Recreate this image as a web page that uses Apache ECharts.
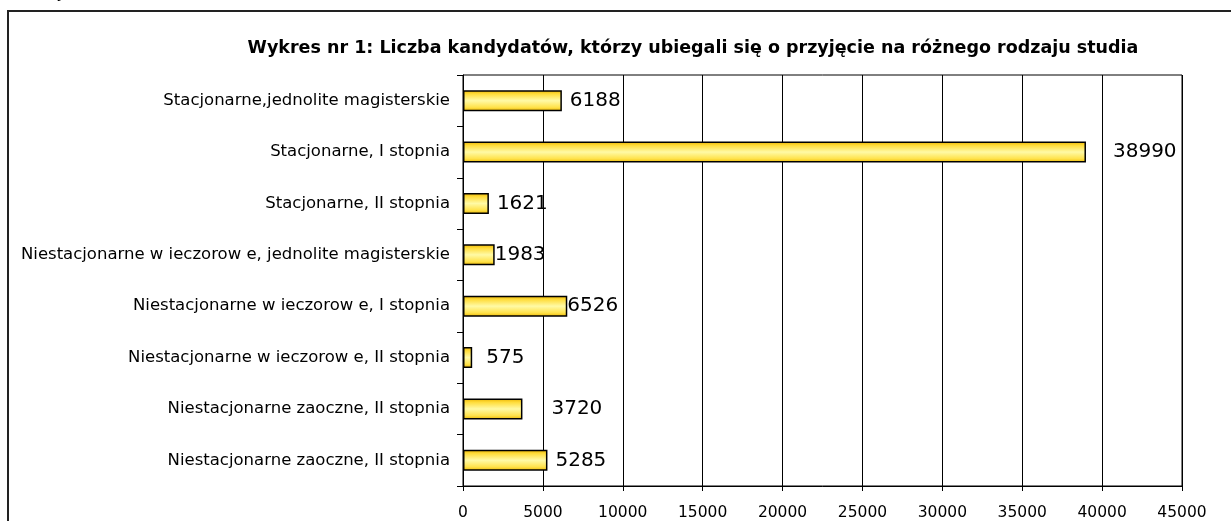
<!DOCTYPE html>
<html>
<head>
    <meta charset="utf-8">
    <title>Wykres nr 1</title>
    <script src="https://cdn.jsdelivr.net/npm/echarts@6/dist/echarts.min.js"></script>
    <style>
        html, body { margin: 0; padding: 0; background: #fff; }
    </style>
</head>
<body>
<div id="main" style="width: 1231px;height:521px;"></div>
<script type="text/javascript">
    // kategorie (od góry)
    var categories = [
        'Stacjonarne,jednolite magisterskie',
        'Stacjonarne, I stopnia',
        'Stacjonarne, II stopnia',
        'Niestacjonarne w ieczorow e, jednolite magisterskie',
        'Niestacjonarne w ieczorow e, I stopnia',
        'Niestacjonarne w ieczorow e, II stopnia',
        'Niestacjonarne zaoczne, II stopnia',
        'Niestacjonarne zaoczne, II stopnia'
    ];
    // liczba kandydatów
    var values = [6188, 38990, 1621, 1983, 6526, 575, 3720, 5285];
    // podziałka osi X
    var xTicks = [0, 5000, 10000, 15000, 20000, 25000, 30000, 35000, 40000, 45000];
    // odstęp etykiety od słupka (jak w oryginale)
    var labelGap = [8, 27, 8, 0, 0, 14, 29, 8];

    var font = "'DejaVu Sans', 'Liberation Sans', Arial, sans-serif";

    var barData = values.map(function (v, i) {
        return {
            value: v,
            label: { distance: labelGap[i] }
        };
    });

    var myChart = echarts.init(document.getElementById('main'));

    var option = {
        animation: false,
        backgroundColor: '#fff',
        title: {
            text: 'Wykres nr 1: Liczba kandydatów, którzy ubiegali się o przyjęcie na różnego rodzaju studia',
            left: 688,
            textAlign: 'center',
            top: 34,
            textStyle: {
                fontFamily: font,
                fontSize: 17.5,
                fontWeight: 'bold',
                color: '#000'
            }
        },
        graphic: [
            { // ramka wykresu
                type: 'polyline',
                shape: { points: [[8, 521], [8, 11], [1231, 11]] },
                style: { stroke: '#222', lineWidth: 2, fill: null }
            },
            { // ucięty tekst nad ramką
                type: 'text',
                left: 58,
                top: -14,
                style: { text: 'y', font: 'italic 16px ' + font, fill: '#000' }
            }
        ],
        grid: {
            left: 463,
            right: 49,
            top: 75,
            bottom: 35,
            show: true,
            borderColor: '#000',
            borderWidth: 1
        },
        xAxis: {
            type: 'value',
            min: xTicks[0],
            max: xTicks[xTicks.length - 1],
            interval: xTicks[1] - xTicks[0],
            axisLine: { show: true, lineStyle: { color: '#000', width: 1 } },
            axisTick: { show: true, length: 5, lineStyle: { color: '#000' } },
            splitLine: { show: true, lineStyle: { color: '#000', width: 1 } },
            axisLabel: {
                fontFamily: font,
                fontSize: 15.5,
                color: '#000',
                margin: 19,
                formatter: function (v) { return String(v); }
            }
        },
        yAxis: {
            type: 'category',
            inverse: true,
            data: categories,
            axisLine: { show: true, lineStyle: { color: '#000', width: 1 } },
            axisTick: { show: true, length: 6, lineStyle: { color: '#000' } },
            axisLabel: {
                fontFamily: font,
                fontSize: 16.5,
                color: '#000',
                margin: 13
            }
        },
        series: [{
            name: 'Liczba kandydatów',
            type: 'bar',
            barWidth: 21,
            data: barData,
            itemStyle: {
                borderColor: '#000',
                borderWidth: 1.5,
                color: new echarts.graphic.LinearGradient(0, 0, 0, 1, [
                    { offset: 0, color: '#e9b200' },
                    { offset: 0.18, color: '#ffdc3a' },
                    { offset: 0.5, color: '#fffaa6' },
                    { offset: 0.82, color: '#ffe24a' },
                    { offset: 1, color: '#e9b400' }
                ])
            },
            label: {
                show: true,
                position: 'right',
                fontFamily: font,
                fontSize: 20,
                color: '#000'
            }
        }]
    };

    myChart.setOption(option);
</script>
</body>
</html>
